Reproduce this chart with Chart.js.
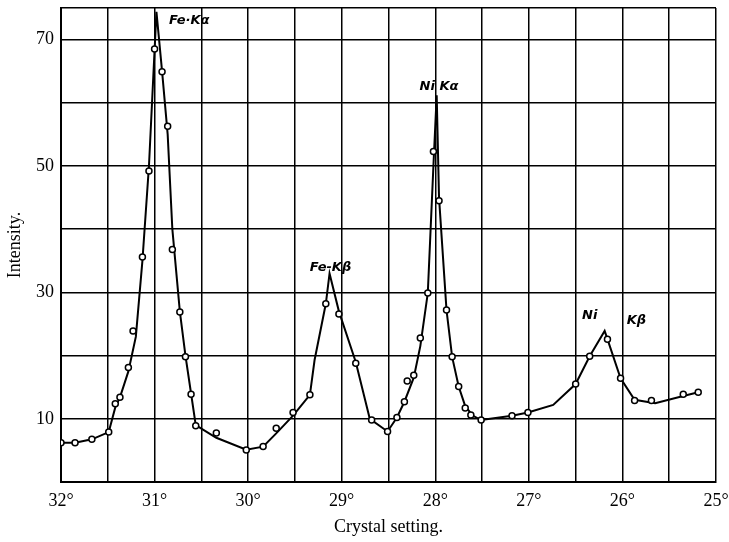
<!DOCTYPE html>
<html><head><meta charset="utf-8">
<script src="https://cdn.jsdelivr.net/npm/chart.js@4.4.0/dist/chart.umd.min.js"></script>
<style>html,body{margin:0;padding:0;background:#fff}#wrap{width:729px;height:542px}</style>
</head><body><div id="wrap"><canvas id="c" width="729" height="542"></canvas></div>
<script>
// Observed readings (crystal setting in degrees, intensity)
const obsAngle = [32.0,31.85,31.67,31.49,31.42,31.37,31.28,31.23,31.13,31.06,31.0,30.92,30.86,30.81,30.73,30.67,30.61,30.56,30.34,30.02,
  29.84,29.70,29.52,29.34,29.17,29.03,28.85,28.68,28.51,28.41,28.33,28.30,28.23,28.16,28.08,28.02,27.96,27.88,27.82,27.75,27.68,27.62,27.51,
  27.18,27.01,26.50,26.35,26.16,26.02,25.87,25.69,25.35,25.19];
const obsIntensity = [6.2,6.2,6.75,7.9,12.4,13.4,18.1,23.9,35.6,49.2,68.5,64.9,56.3,36.8,26.9,19.8,13.9,8.9,7.75,5.06,
  5.6,8.5,11.0,13.8,28.2,26.6,18.8,9.8,8.0,10.2,12.7,16.0,16.9,22.8,29.9,52.3,44.5,27.2,19.8,15.1,11.7,10.6,9.8,
  10.5,11.0,15.5,19.9,22.6,16.4,12.9,12.9,13.9,14.2];
// Drawn curve
const curveAngle = [32.0,31.85,31.67,31.49,31.42,31.37,31.28,31.2,31.13,31.06,30.98,30.92,30.86,30.81,30.73,30.67,30.61,30.56,30.34,30.02,
  29.84,29.70,29.52,29.34,29.29,29.17,29.13,29.03,28.85,28.7,28.51,28.41,28.33,28.23,28.16,28.08,28.02,27.985,27.96,27.88,27.82,27.75,27.68,27.6,27.51,
  27.18,27.01,26.74,26.50,26.35,26.19,26.16,26.02,25.87,25.65,25.35,25.19];
const curveIntensity = [6.2,6.2,6.75,7.9,11.8,13.4,17.5,23,35,50,74.4,65,55,40,27,20,14,9,7,5.1,
  5.6,7.7,10.5,13.8,19.3,28.2,33,27,19,10,8.0,10.2,12.7,16.5,21.5,29.9,50,61.2,45,27.2,19.8,15.1,12,10.5,9.8,
  10.5,11.0,12.2,15.5,19.9,23.9,22.6,16.4,13,12.45,13.6,14.2];
const yLabelled = [10,30,50,70];
const peakText = ["Fe·Kα","Fe-Kβ","Ni Kα","Ni","Kβ"];
const peakAngle = [30.63,29.12,27.96,26.35,25.85];
const peakIntensity = [73.0,33.9,62.5,26.4,25.6];

const pts = (a,b)=>a.map((x,i)=>({x:x,y:b[i]}));
const serif = "'Liberation Serif','DejaVu Serif',serif";

const labelPlugin = {
  id:'peakLabels',
  afterDatasetsDraw(chart){
    const {ctx, scales:{x,y}} = chart;
    ctx.save();
    ctx.fillStyle='#000';
    ctx.font = "italic bold 13px 'DejaVu Sans',sans-serif";
    ctx.textAlign='center'; ctx.textBaseline='middle';
    peakText.forEach((t,i)=>{
      ctx.fillText(t, x.getPixelForValue(peakAngle[i]), y.getPixelForValue(peakIntensity[i]));
    });
    ctx.restore();
  }
};

new Chart(document.getElementById('c'),{
  type:'scatter',
  data:{datasets:[
    {data:pts(curveAngle,curveIntensity),showLine:true,borderColor:'#000',borderWidth:2,pointRadius:0,tension:0,order:2},
    {data:pts(obsAngle,obsIntensity),showLine:false,pointRadius:3,pointBorderWidth:1.5,pointBorderColor:'#000',pointBackgroundColor:'#fff',order:1}
  ]},
  options:{
    responsive:false,animation:false,
    layout:{padding:{top:8,right:13,left:0,bottom:0}},
    plugins:{legend:{display:false},tooltip:{enabled:false}},
    scales:{
      x:{type:'linear',min:25,max:32,reverse:true,
        afterFit(s){s.height=60;s.paddingLeft=0;s.paddingRight=0;},
        ticks:{stepSize:0.5,padding:8,color:'#000',font:{family:serif,size:18},
          callback:v=>Number.isInteger(v)?v+'°':''},
        grid:{color:'#000',lineWidth:1.5,drawTicks:false},
        border:{color:'#000',width:2},
        title:{display:true,text:'Crystal setting.',color:'#000',font:{family:serif,size:18},padding:{top:0}}
      },
      y:{min:0,max:75,
        afterFit(s){s.width=61;s.paddingTop=0;s.paddingBottom=0;},
        ticks:{stepSize:10,padding:7,color:'#000',font:{family:serif,size:18},
          callback:v=>yLabelled.includes(v)?String(v):''},
        grid:{color:'#000',lineWidth:1.5,drawTicks:false},
        border:{color:'#000',width:2},
        title:{display:true,text:'Intensity.',color:'#000',font:{family:serif,size:18},padding:{bottom:0}}
      }
    }
  },
  plugins:[labelPlugin]
});
</script></body></html>
